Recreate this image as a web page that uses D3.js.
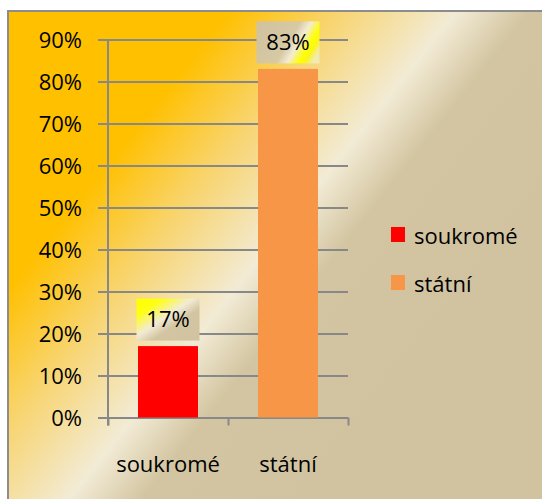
<!DOCTYPE html>
<html>
<head>
<meta charset="utf-8">
<script src="https://cdn.jsdelivr.net/npm/d3@7"></script>
<style>
  html, body { margin: 0; padding: 0; background: #fff; }
  svg text { font-family: "Open Sans", sans-serif; fill: #000; }
</style>
</head>
<body>
<div class="chart"></div>
<script>

// Data
//
var categories = ["soukromé", "státní"];
var values = [0.17, 0.83];
var barColors = ["#FF0000", "#F79646"];
var yTicks = [0, 0.1, 0.2, 0.3, 0.4, 0.5, 0.6, 0.7, 0.8, 0.9];

var width = 542,
    height = 499;

var plot = {left: 108, right: 348, top: 39.5, bottom: 417.5};

var svg = d3.select(".chart")
	.append("svg")
	.attr("width", width)
	.attr("height", height);

var defs = svg.append("defs");

// chart background
var bg = defs.append("linearGradient")
	.attr("id", "bg")
	.attr("gradientUnits", "userSpaceOnUse")
	.attr("x1", 0).attr("y1", 0)
	.attr("x2", 429).attr("y2", 341);
[[0, "#FFC000"], [0.34, "#FFC000"], [0.5, "#F8D572"], [0.665, "#F2EBD5"], [0.77, "#D3C5A1"], [1, "#D1C3A0"]]
	.forEach(function(s) { bg.append("stop").attr("offset", s[0]).attr("stop-color", s[1]); });

// label boxes
var lab1 = defs.append("linearGradient")
	.attr("id", "lab0")
	.attr("x1", 0).attr("y1", 0).attr("x2", 1).attr("y2", 1);
[[0, "#FFFF00"], [0.2, "#FFFF10"], [0.45, "#F2EBD5"], [0.62, "#D3C5A1"], [1, "#D1C3A0"]]
	.forEach(function(s) { lab1.append("stop").attr("offset", s[0]).attr("stop-color", s[1]); });

var lab2 = defs.append("linearGradient")
	.attr("id", "lab1")
	.attr("x1", 0).attr("y1", 0.3).attr("x2", 1).attr("y2", 0.7);
[[0, "#D1C3A0"], [0.5, "#D6C9A4"], [0.65, "#F2EBD5"], [0.82, "#FFFF00"], [0.9, "#FAF520"], [1, "#F2EBB0"]]
	.forEach(function(s) { lab2.append("stop").attr("offset", s[0]).attr("stop-color", s[1]); });

svg.append("rect")
	.attr("x", 8)
	.attr("y", 11)
	.attr("width", 560)
	.attr("height", 520)
	.attr("fill", "url(#bg)")
	.attr("stroke", "#8C8C8C")
	.attr("stroke-width", 2);

var y = d3.scaleLinear()
	.domain([0, 0.9])
	.range([plot.bottom, plot.top]);

var x = d3.scaleBand()
	.domain(categories)
	.range([plot.left, plot.right])
	.paddingInner(0.5)
	.paddingOuter(0.25);

// gridlines + y labels
var yAxis = svg.append("g")
	.attr("transform", "translate(" + (plot.left - 10) + ",0)")
	.call(d3.axisLeft(y)
		.tickValues(yTicks)
		.tickSize(-(plot.right - plot.left + 10))
		.tickPadding(16)
		.tickFormat(d3.format(".0%")));

yAxis.select(".domain").remove();
yAxis.selectAll("line")
	.attr("stroke", "#888")
	.attr("stroke-width", 2);
yAxis.selectAll("text")
	.attr("font-size", 22)
	.attr("dy", "0.36em");

// y axis line
svg.append("line")
	.attr("x1", plot.left).attr("x2", plot.left)
	.attr("y1", plot.top).attr("y2", plot.bottom + 8)
	.attr("stroke", "#888")
	.attr("stroke-width", 2);

// x axis ticks at category edges
var xEdge = d3.scaleLinear()
	.domain([0, categories.length])
	.range([plot.left, plot.right]);

var xAxis = svg.append("g")
	.attr("transform", "translate(0," + plot.bottom + ")")
	.call(d3.axisBottom(xEdge)
		.tickValues(d3.range(categories.length + 1))
		.tickSize(8)
		.tickFormat(""));
xAxis.select(".domain").remove();
xAxis.selectAll("line")
	.attr("stroke", "#888")
	.attr("stroke-width", 2);

// category labels
svg.selectAll(".cat")
	.data(categories)
	.enter().append("text")
	.attr("class", "cat")
	.attr("x", function(d) { return x(d) + x.bandwidth() / 2; })
	.attr("y", 472)
	.attr("text-anchor", "middle")
	.attr("font-size", 22)
	.text(function(d) { return d; });

// bars
svg.selectAll(".bar")
	.data(values)
	.enter().append("rect")
	.attr("class", "bar")
	.attr("x", function(d, i) { return x(categories[i]); })
	.attr("width", x.bandwidth())
	.attr("y", function(d) { return y(d); })
	.attr("height", function(d) { return y(0) - y(d); })
	.attr("fill", function(d, i) { return barColors[i]; });

// value labels
var labels = svg.selectAll(".vlab")
	.data(values)
	.enter().append("g")
	.attr("class", "vlab")
	.attr("transform", function(d, i) {
		return "translate(" + (x(categories[i]) + x.bandwidth() / 2) + "," + (y(d) - 27) + ")";
	});

labels.append("rect")
	.attr("x", -31.5)
	.attr("y", -20.5)
	.attr("width", 63)
	.attr("height", 42)
	.attr("fill", function(d, i) { return "url(#lab" + i + ")"; });

labels.append("text")
	.attr("text-anchor", "middle")
	.attr("y", 8)
	.attr("font-size", 22)
	.text(function(d) { return d3.format(".0%")(d); });

// legend
var legend = svg.selectAll(".legend")
	.data(categories)
	.enter().append("g")
	.attr("class", "legend")
	.attr("transform", function(d, i) { return "translate(391," + (227 + i * 48) + ")"; });

legend.append("rect")
	.attr("width", 14)
	.attr("height", 15)
	.attr("fill", function(d, i) { return barColors[i]; });

legend.append("text")
	.attr("x", 23)
	.attr("y", 17)
	.attr("font-size", 22)
	.text(function(d) { return d; });

</script>
</body>
</html>
